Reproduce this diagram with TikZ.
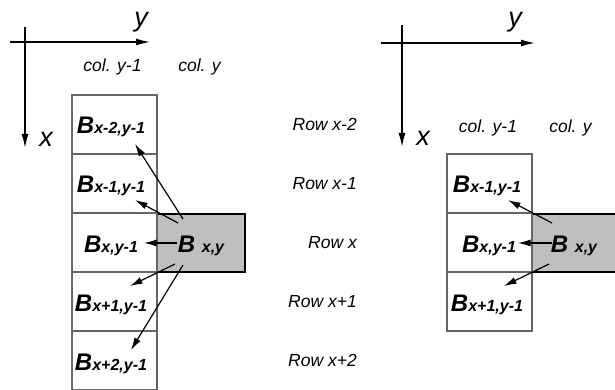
\documentclass[tikz,border=0pt]{standalone}
\usepackage{fontspec}
\setmainfont{Liberation Sans}
\usetikzlibrary{arrows.meta}
\newcommand\bsub[1]{{\fontsize{16}{16}\selectfont #1}}
\begin{document}
\begin{tikzpicture}[x=1pt,y=-1pt,
  cell/.style={draw=black!60, line width=1.1pt, minimum width=85pt, minimum height=59pt, inner sep=0pt, outer sep=0pt},
  grayfill/.style={fill=black!25, draw=none, minimum width=#1, minimum height=58pt, inner sep=0pt, outer sep=0pt},
  grayedge/.style={draw=black, line width=1.6pt},
  blab/.style={font=\fontsize{24}{24}\selectfont\bfseries\itshape, anchor=base, inner sep=0pt},
  txt/.style={font=\fontsize{17.5}{17.5}\selectfont\itshape, inner sep=0pt},
  axlab/.style={font=\fontsize{27}{27}\selectfont\itshape, inner sep=0pt},
  axis/.style={line width=1.5pt, -{Latex[length=14pt,width=7pt]}},
  arr/.style={line width=1.2pt, -{Latex[length=12.5pt,width=7pt]}}]
\useasboundingbox (0,0) rectangle (615,390);

% ---------- left diagram ----------
\coordinate (la0) at (10,42);
\coordinate (la1) at (150,42);
\coordinate (lb0) at (25,27);
\coordinate (lb1) at (25,148);
\draw[axis] (la0) -- (la1);
\draw[axis] (lb0) -- (lb1);
\node[axlab] (ly) at (141,22) {y};
\node[axlab] (lx) at (46,139) {x};
\node[txt, anchor=base] (lc1) at (112.5,72) {col. y-1};
\node[txt, anchor=base] (lc2) at (199.5,72) {col. y};

\node[grayfill=88pt] (lg) at (201,243) {};
\draw[grayedge] (lg.north west) -- (lg.north east) -- (lg.south east) -- (lg.south west);

\node[cell] (c2) at (114.5,124.5) {};
\node[cell] (c1) at (114.5,183.5) {};
\node[cell] (c0) at (114.5,242.5) {};
\node[cell] (cp1) at (114.5,301.5) {};
\node[cell] (cp2) at (114.5,360.5) {};

\node[blab] (l2) at (111,134) {B\bsub{x-2,y-1}};
\node[blab] (l1) at (111,193) {B\bsub{x-1,y-1}};
\node[blab] (l0) at (111,252) {B\bsub{x,y-1}};
\node[blab] (lp1) at (111,311) {B\bsub{x+1,y-1}};
\node[blab] (lp2) at (111,370) {B\bsub{x+2,y-1}};
\node[blab] (lxy) at (201,252) {B \bsub{x,y}};

\node[txt, anchor=east] (r2) at (357,124.5) {Row x-2};
\node[txt, anchor=east] (r1) at (357,183.5) {Row x-1};
\node[txt, anchor=east] (r0) at (357,242.5) {Row x};
\node[txt, anchor=east] (rp1) at (357,301.5) {Row x+1};
\node[txt, anchor=east] (rp2) at (357,360.5) {Row x+2};

\coordinate (s2) at (183,219);
\coordinate (t2) at (135,144);
\coordinate (s1) at (178,223);
\coordinate (t1) at (135,200);
\coordinate (s0) at (177,243);
\coordinate (t0) at (144,243);
\coordinate (sp1) at (175,264);
\coordinate (tp1) at (130,286);
\coordinate (sp2) at (183,265);
\coordinate (tp2) at (131,350);
\draw[arr] (s2) -- (t2);
\draw[arr] (s1) -- (t1);
\draw[arr] (s0) -- (t0);
\draw[arr] (sp1) -- (tp1);
\draw[arr] (sp2) -- (tp2);

% ---------- right diagram ----------
\coordinate (ra0) at (381,43);
\coordinate (ra1) at (535,43);
\coordinate (rb0) at (402,25);
\coordinate (rb1) at (402,147);
\draw[axis] (ra0) -- (ra1);
\draw[axis] (rb0) -- (rb1);
\node[axlab] (ry) at (515,22) {y};
\node[axlab] (rx) at (423,138) {x};
\node[txt, anchor=base] (rc1) at (488,133) {col. y-1};
\node[txt, anchor=base] (rc2) at (570.5,133) {col. y};

\node[grayfill=90pt] (rg) at (577,243) {};
\draw[grayedge] (rg.north west) -- (rg.north east);
\draw[grayedge] (rg.south west) -- (rg.south east);

\node[cell] (d1) at (489.5,183.5) {};
\node[cell] (d0) at (489.5,242.5) {};
\node[cell] (dp1) at (489.5,301.5) {};

\node[blab] (m1) at (487,193) {B\bsub{x-1,y-1}};
\node[blab] (m0) at (489,252) {B\bsub{x,y-1}};
\node[blab] (mp1) at (487,311) {B\bsub{x+1,y-1}};
\node[blab] (mxy) at (574,252) {B \bsub{x,y}};

\coordinate (u1) at (552,223);
\coordinate (v1) at (508,200);
\coordinate (u0) at (552,243);
\coordinate (v0) at (518,243);
\coordinate (up1) at (549,264);
\coordinate (vp1) at (504,286);
\draw[arr] (u1) -- (v1);
\draw[arr] (u0) -- (v0);
\draw[arr] (up1) -- (vp1);
\end{tikzpicture}
\end{document}
